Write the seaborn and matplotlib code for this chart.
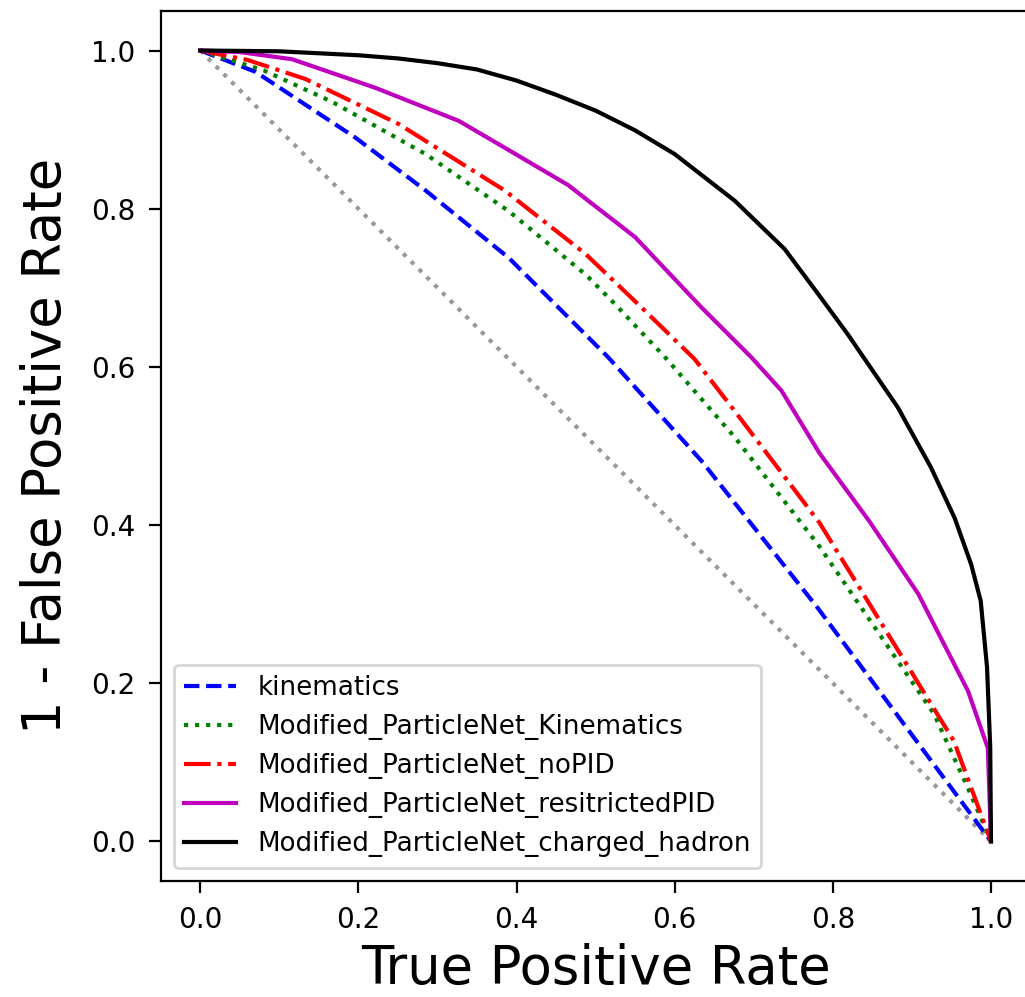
import matplotlib
matplotlib.use("Agg")
import matplotlib.pyplot as plt
import seaborn as sns

# ROC curves (true positive rate, 1 - false positive rate)
kin_tpr = [0, 0.07, 0.196, 0.285, 0.39, 0.444, 0.516, 0.634, 0.781, 0.928, 1.0]
kin_rej = [1, 0.973, 0.890, 0.823, 0.738, 0.684, 0.612, 0.481, 0.295, 0.097, 0.0]

pn_kin_tpr = [0, 0.08, 0.167, 0.285, 0.39, 0.487, 0.52, 0.588, 0.676, 0.783, 0.928, 0.971, 1.0]
pn_kin_rej = [1, 0.975, 0.935, 0.869, 0.797, 0.717, 0.684, 0.612, 0.511, 0.373, 0.161, 0.067, 0.0]

nopid_tpr = [0, 0.06, 0.133, 0.251, 0.385, 0.487, 0.554, 0.625, 0.676, 0.783, 0.953, 1.0]
nopid_rej = [1, 0.988, 0.964, 0.907, 0.823, 0.743, 0.679, 0.610, 0.544, 0.403, 0.127, 0.0]

rpid_tpr = [0, 0.05, 0.116, 0.221, 0.327, 0.392, 0.465, 0.55, 0.634, 0.697, 0.735,
            0.783, 0.846, 0.908, 0.971, 0.996, 1.0]
rpid_rej = [1, 0.998, 0.989, 0.953, 0.911, 0.873, 0.830, 0.764, 0.675, 0.612, 0.570,
            0.491, 0.405, 0.313, 0.190, 0.118, 0.0]

ch_tpr = [0, 0.1, 0.2, 0.25, 0.3, 0.35, 0.4, 0.45, 0.5, 0.55, 0.6, 0.676, 0.739,
          0.783, 0.819, 0.882, 0.924, 0.954, 0.975, 0.987, 0.995, 0.999, 1.0]
ch_rej = [1, 0.999, 0.994, 0.990, 0.984, 0.976, 0.962, 0.944, 0.924, 0.899, 0.869,
          0.810, 0.749, 0.690, 0.641, 0.549, 0.473, 0.409, 0.350, 0.304, 0.220, 0.12, 0.0]

diag = [0, 1]

fig = plt.figure(figsize=(5.125, 4.985), dpi=200)
ax = fig.add_axes([0.1568, 0.1164, 0.8486, 0.8726])

ax.plot(diag, diag[::-1], color="grey", linestyle=":", alpha=0.8)

sns.lineplot(x=kin_tpr, y=kin_rej, ax=ax, sort=False, color="b",
             linestyle="--", label="kinematics")
sns.lineplot(x=pn_kin_tpr, y=pn_kin_rej, ax=ax, sort=False, color="g",
             linestyle=":", label="Modified_ParticleNet_Kinematics")
sns.lineplot(x=nopid_tpr, y=nopid_rej, ax=ax, sort=False, color="r",
             linestyle="-.", label="Modified_ParticleNet_noPID")
sns.lineplot(x=rpid_tpr, y=rpid_rej, ax=ax, sort=False, color="m",
             linestyle="-", label="Modified_ParticleNet_resitrictedPID")
sns.lineplot(x=ch_tpr, y=ch_rej, ax=ax, sort=False, color="k",
             linestyle="-", label="Modified_ParticleNet_charged_hadron")

ax.tick_params(length=4.4, pad=4.7)
ax.set_xlabel("True Positive Rate", fontsize=19, labelpad=3)
ax.set_ylabel("1 - False Positive Rate", fontsize=19, labelpad=7)
ax.legend(loc="lower left", fontsize=9.4)

fig.savefig("out.png", dpi=200)
